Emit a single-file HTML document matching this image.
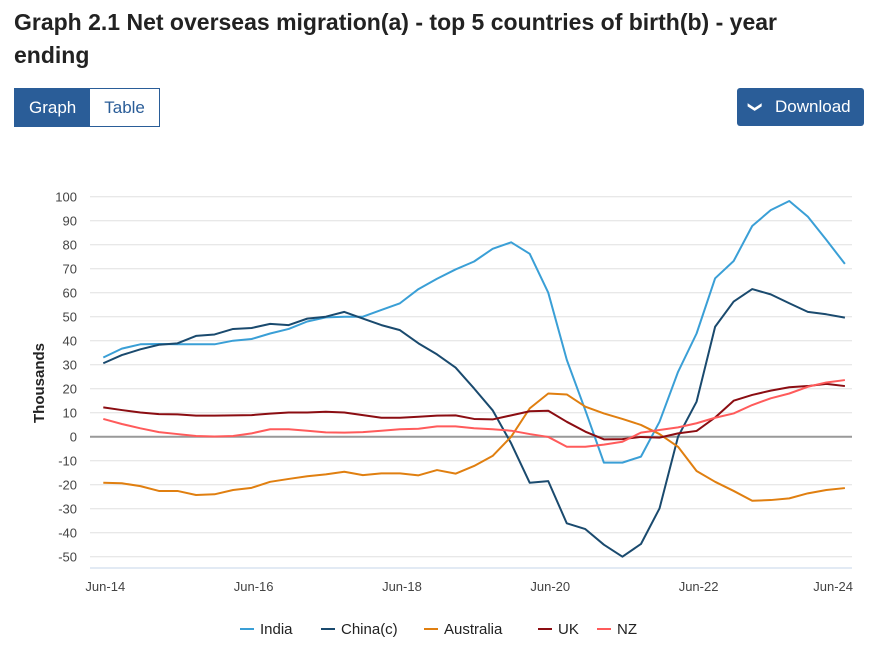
<!DOCTYPE html>
<html><head><meta charset="utf-8"><style>
body{margin:0;background:#fff;font-family:"Liberation Sans",sans-serif;width:874px;height:648px;overflow:hidden;position:relative}
h1{position:absolute;left:14px;top:6px;margin:0;font-size:23px;line-height:33px;font-weight:bold;color:#222;width:840px}
.tog{position:absolute;left:14px;top:88px;height:37px;border:1px solid #2a5d98;display:flex;font-size:17px}
.tog div{padding:0 14px;line-height:37px}
.dl{position:absolute;left:737px;top:88px;width:127px;height:38px;background:#2a5d98;color:#fff;border-radius:3px;font-size:17px;line-height:38px}
</style></head><body>
<h1>Graph 2.1 Net overseas migration(a) - top 5 countries of birth(b) - year ending</h1>
<div class="tog">
<div style="background:#2a5d98;color:#fff">Graph</div>
<div style="color:#2a5d98">Table</div></div>
<div class="dl"><span style="position:absolute;left:13px;top:0;font-size:14px;display:inline-block;transform:rotate(90deg)">&#10095;</span><span style="position:absolute;left:38px">Download</span></div>
<svg id="c" width="874" height="648" style="position:absolute;left:0;top:0"></svg>
<script>
const yTicks=[100,90,80,70,60,50,40,30,20,10,0,-10,-20,-30,-40,-50];
const xLabels=["Jun-14","Jun-16","Jun-18","Jun-20","Jun-22","Jun-24"];
const seriesNames=["India","China(c)","Australia","UK","NZ"];
const india=[33,36.7,38.5,38.6,38.5,38.5,38.5,40,40.7,43,44.9,48,49.7,50,50,52.8,55.6,61.5,65.8,69.7,73,78.3,81,76.2,60,32,11,-10.8,-10.8,-8.3,6.2,27,43,66,73.2,87.8,94.4,98.2,91.7,82,72];
const china=[30.6,34,36.4,38.3,38.9,42,42.6,44.9,45.3,47,46.5,49.2,50,52,49.2,46.5,44.4,38.9,34.3,28.8,20.1,11,-2.8,-19.2,-18.5,-36.1,-38.5,-45,-50,-44.7,-29.9,0,14.6,45.8,56.3,61.5,59.3,55.6,52,51,49.6];
const australia=[-19.2,-19.4,-20.6,-22.6,-22.6,-24.3,-24,-22.2,-21.3,-18.8,-17.6,-16.5,-15.7,-14.6,-16,-15.3,-15.3,-16.1,-13.9,-15.4,-12.2,-8,0,11.8,18,17.6,12.5,9.7,7.4,4.9,1.1,-4.2,-14.3,-18.8,-22.6,-26.7,-26.4,-25.7,-23.6,-22.2,-21.4];
const uk=[12.2,11.1,10.1,9.4,9.3,8.8,8.8,8.9,9,9.6,10.1,10.1,10.4,10.1,9,7.9,7.9,8.3,8.8,8.9,7.4,7.2,8.9,10.6,10.8,6.2,2.1,-1.1,-1,-0.1,-0.4,1.4,2.4,8,15,17.4,19.2,20.6,21.1,22,21.1];
const nz=[7.4,5.3,3.5,1.9,1.1,0.3,0.1,0.3,1.4,3.1,3.1,2.5,1.8,1.7,1.9,2.5,3.1,3.3,4.3,4.3,3.5,3.1,2.5,1.1,-0.1,-4.2,-4.2,-3.3,-2.1,1.7,2.8,3.9,5.6,7.9,9.7,13.2,16,18,20.8,22.6,23.6];
const colors=["#3a9fd6","#1a4a6e","#e07f10","#8b0d12","#ff5b5b"];
const svg=document.getElementById('c'),NS="http://www.w3.org/2000/svg";
const X=i=>103.3+i*18.54, Y=v=>436.7-2.4*v;
function mk(t,a,p){const e=document.createElementNS(NS,t);for(const k in a)e.setAttribute(k,a[k]);(p||svg).appendChild(e);return e;}
yTicks.forEach(v=>{
 const l=mk('line',{x1:90,x2:852,y1:Y(v),y2:Y(v),stroke:v===0?'#999':'#e0e0e0','stroke-width':v===0?2:1});
 
 
 const t=mk('text',{x:77,y:Y(v)+5,'text-anchor':'end','font-size':13,fill:'#444'});t.textContent=v;
 
 
});
const ax=mk('line',{x1:90,x2:852,y1:568,y2:568,stroke:'#c6d6ea','stroke-width':1});


xLabels.forEach((s,k)=>{
 const last=k===xLabels.length-1;
 const t=mk('text',{x:last?853:X(k*8)+2,y:591,'text-anchor':last?'end':'middle','font-size':13,fill:'#444'});t.textContent=s;
 
 
});
const yt=mk('text',{x:0,y:0,transform:'translate(44,383) rotate(-90)','text-anchor':'middle','font-size':15,'font-weight':'bold',fill:'#222'});yt.textContent='Thousands';


[india,china,australia,uk,nz].forEach((d,s)=>{
 const p=mk('polyline',{points:d.map((v,i)=>X(i)+','+Y(v)).join(' '),fill:'none',stroke:colors[s],'stroke-width':2,'stroke-linejoin':'round'});
 
 
});
const lx=[240,321,424,538,597];
seriesNames.forEach((n,s)=>{
 const g=mk('g',{});
 
 
 mk('line',{x1:lx[s],x2:lx[s]+14,y1:629,y2:629,stroke:colors[s],'stroke-width':2},g);
 const t=mk('text',{x:lx[s]+20,y:634,'font-size':15,fill:'#222'},g);t.textContent=n;
});
</script></body></html>
